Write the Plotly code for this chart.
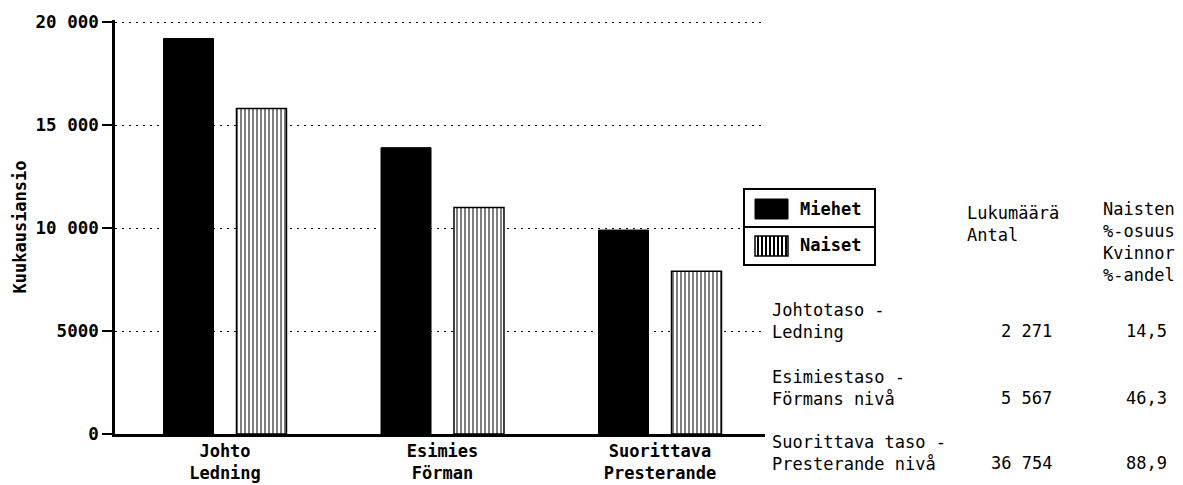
import plotly.graph_objects as go

# ---------------- data ----------------
group_labels = ["Johto<br>Ledning", "Esimies<br>Förman", "Suorittava<br>Presterande"]
miehet = [19200, 13900, 9900]
naiset = [15800, 11000, 7900]
y_tick_vals = [0, 5000, 10000, 15000, 20000]
y_tick_text = ["0", "5000", "10 000", "15 000", "20 000"]
series_names = ["Miehet", "Naiset"]
y_title = "Kuukausiansio"

level_fi = ["Johtotaso -", "Esimiestaso -", "Suorittava taso -"]
level_sv = ["Ledning", "Förmans nivå", "Presterande nivå"]
counts = ["2 271", "5 567", "36 754"]
women_share = ["14,5", "46,3", "88,9"]
head_count = ["Lukumäärä", "Antal"]
head_share = ["Naisten", "%-osuus", "Kvinnor", "%-andel"]

# ---------------- layout geometry (page pixels) ----------------
OFF = 8                       # default body margin of the html page
W, H = 1183 - OFF, 485 - OFF  # figure size
L, R, T, B = 115, 765, 20, 434  # plot area in page pixels
PW, PH = R - L, B - T
Y_TOP = 20000 * (B - T) / (B - 22)   # 20 000 sits at page y=22

def px(x):
    return (x - L) / PW

def py(y):
    return (B - y) / PH

x_pos = list(range(len(group_labels)))
unit = 217.5
x0 = -(225 - L) / unit
x1 = x0 + PW / unit

MONO = "DejaVu Sans Mono"

fig = go.Figure()
fig.add_trace(go.Bar(
    x=x_pos, y=miehet, name=series_names[0],
    marker=dict(color="black", line=dict(color="black", width=1)),
    showlegend=False,
))
fig.add_trace(go.Bar(
    x=x_pos, y=naiset, name=series_names[1],
    marker=dict(color="white", line=dict(color="black", width=1.5),
                pattern=dict(shape="|", fgcolor="black", bgcolor="white",
                             size=4, solidity=0.5)),
    showlegend=False,
))

fig.update_layout(
    width=W, height=H,
    margin=dict(l=L - OFF, r=W - (R - OFF), t=T - OFF, b=H - (B - OFF), pad=0,
                autoexpand=False),
    paper_bgcolor="white", plot_bgcolor="white",
    barmode="group", bargap=0.329, bargroupgap=0.315,
    showlegend=False,
    font=dict(family=MONO, color="black"),
)
fig.update_xaxes(
    range=[x0, x1], tickvals=x_pos, ticktext=[f"<b>{t}</b>" for t in group_labels],
    showline=True, linecolor="black", linewidth=2.5, ticks="", showgrid=False,
    zeroline=False, automargin=False,
    tickfont=dict(family=MONO, size=17, color="black"),
)
fig.update_yaxes(
    range=[0, Y_TOP], tickvals=y_tick_vals,
    ticktext=[f"<b>{t}</b>" for t in y_tick_text],
    showline=True, linecolor="black", linewidth=2.5,
    ticks="outside", ticklen=10, tickwidth=2, tickcolor="black",
    showgrid=True, gridcolor="black", gridwidth=1, griddash="2px,5px",
    zeroline=False, automargin=False,
    tickfont=dict(family=MONO, size=17.5, color="black"),
    title=dict(text=f"<b>{y_title}</b>", font=dict(family=MONO, size=17), standoff=5),
)

# ---------------- legend (drawn) ----------------
shapes = []
box_l, box_r, box_t, box_m, box_b = 744, 875, 189, 227, 265
shapes.append(dict(type="rect", xref="paper", yref="paper",
                   x0=px(box_l), x1=px(box_r), y0=py(box_b), y1=py(box_t),
                   line=dict(color="black", width=2), fillcolor="white"))
shapes.append(dict(type="line", xref="paper", yref="paper",
                   x0=px(box_l), x1=px(box_r), y0=py(box_m), y1=py(box_m),
                   line=dict(color="black", width=2)))
sw_l, sw_r = 755, 788
shapes.append(dict(type="rect", xref="paper", yref="paper",
                   x0=px(sw_l), x1=px(sw_r), y0=py(219), y1=py(199),
                   line=dict(color="black", width=1), fillcolor="black"))
shapes.append(dict(type="rect", xref="paper", yref="paper",
                   x0=px(sw_l), x1=px(sw_r), y0=py(256), y1=py(236),
                   line=dict(color="black", width=1.5), fillcolor="white"))
xs = sw_l + 3
while xs < sw_r - 1:
    shapes.append(dict(type="line", xref="paper", yref="paper",
                       x0=px(xs), x1=px(xs), y0=py(256), y1=py(236),
                       line=dict(color="black", width=2)))
    xs += 4
fig.update_layout(shapes=shapes)

ann = []
for name, yy in zip(series_names, [209, 245]):
    ann.append(dict(text=f"<b>{name}</b>", x=px(798), y=py(yy), xref="paper", yref="paper",
                    xanchor="left", yanchor="middle", showarrow=False,
                    font=dict(family=MONO, size=17, color="black")))

# ---------------- table ----------------
TF = dict(family=MONO, size=17, color="black")
def block(lines, x, y_center, anchor):
    ann.append(dict(text="<br>".join(lines), x=px(x), y=py(y_center), xref="paper",
                    yref="paper", xanchor=anchor, yanchor="middle", align=anchor,
                    showarrow=False, font=TF))

block(head_count, 965, 224, "left")
block(head_share, 1101, 242, "left")
row_y = [331, 398, 463]
for fi, sv, c, s, yy in zip(level_fi, level_sv, counts, women_share, row_y):
    block([fi, sv], 770, yy - 10, "left")
    block([c], 1054, yy, "right")
    block([s], 1169, yy, "right")
fig.update_layout(annotations=ann)

fig.write_html("out.html")
